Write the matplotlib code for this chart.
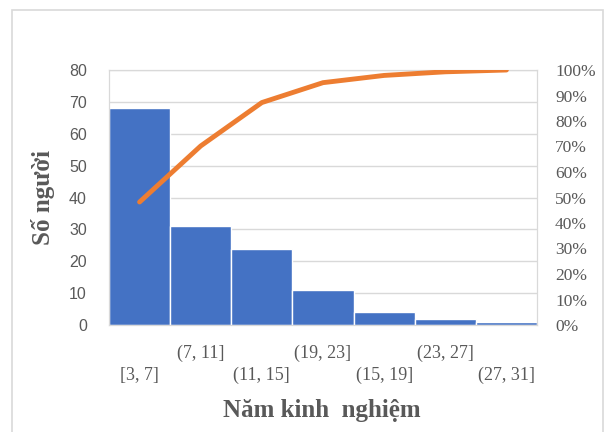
import numpy as np
import matplotlib
matplotlib.use("Agg")
from matplotlib import pyplot as plt
from matplotlib.patches import Rectangle

# data (sorted descending, Pareto style)
categories = ["[3, 7]", "(7, 11]", "(11, 15]", "(19, 23]", "(15, 19]", "(23, 27]", "(27, 31]"]
counts = [68, 31, 24, 11, 4, 2, 1]

BLUE = "#4472C4"
ORANGE = "#ED7D31"
GREY_TXT = "#595959"
GRID = "#D9D9D9"

counts_arr = np.array(counts, dtype=float)
cum_pct = np.cumsum(counts_arr) / counts_arr.sum()
x = np.arange(len(categories))

fig = plt.figure(figsize=(6.05, 4.32), dpi=100)
fig.patches.append(Rectangle((12 / 605, -0.05), 591 / 605, 1.05 - 10 / 432,
                             transform=fig.transFigure, fill=False,
                             edgecolor="#D9D9D9", linewidth=1.2))

ax1 = fig.add_axes([109 / 605, 1 - 325 / 432, 428 / 605, 255 / 432])
ax1.bar(x, counts, width=1.0, color=BLUE, edgecolor="white", linewidth=1.0, zorder=2)
ax1.set_xlim(-0.5, len(categories) - 0.5)
ax1.set_ylim(0, 80)
ax1.set_yticks(range(0, 81, 10))
ax1.grid(axis="y", color=GRID, linewidth=1.0, zorder=0)
ax1.set_axisbelow(True)
for side in ["top", "left", "right", "bottom"]:
    ax1.spines[side].set_color(GRID)
ax1.tick_params(axis="both", length=0, colors=GREY_TXT)
ax1.tick_params(axis="y", pad=16, labelsize=11.5)
for lab in ax1.get_yticklabels():
    lab.set_family("Liberation Sans")

ax1.set_xticks(x)
ax1.set_xticklabels(categories, family="Liberation Serif", fontsize=13, color=GREY_TXT)
for i, lab in enumerate(ax1.get_xticklabels()):
    # staggered labels like the original
    lab.set_y(-0.145 if i % 2 == 0 else -0.06)

ax1.set_ylabel("Số người", family="Liberation Serif", fontweight="bold",
               fontsize=18, color=GREY_TXT, labelpad=10)
fig.text(322 / 605, 1 - 410 / 432, "Năm kinh  nghiệm", family="Liberation Serif",
         fontweight="bold", fontsize=18, color=GREY_TXT, ha="center", va="center")

ax2 = ax1.twinx()
ax2.plot(x, cum_pct, color=ORANGE, linewidth=3.5, solid_capstyle="round", zorder=3)
ax2.set_ylim(0, 1)
ax2.set_yticks(np.arange(0, 1.01, 0.1))
ax2.set_yticklabels([f"{int(round(v * 100))}%" for v in np.arange(0, 1.01, 0.1)],
                    family="Liberation Serif", fontsize=12.5, color=GREY_TXT)
ax2.tick_params(axis="y", length=0, pad=13)
for side in ax2.spines:
    ax2.spines[side].set_color(GRID)

fig.savefig("out.png", dpi=100)
